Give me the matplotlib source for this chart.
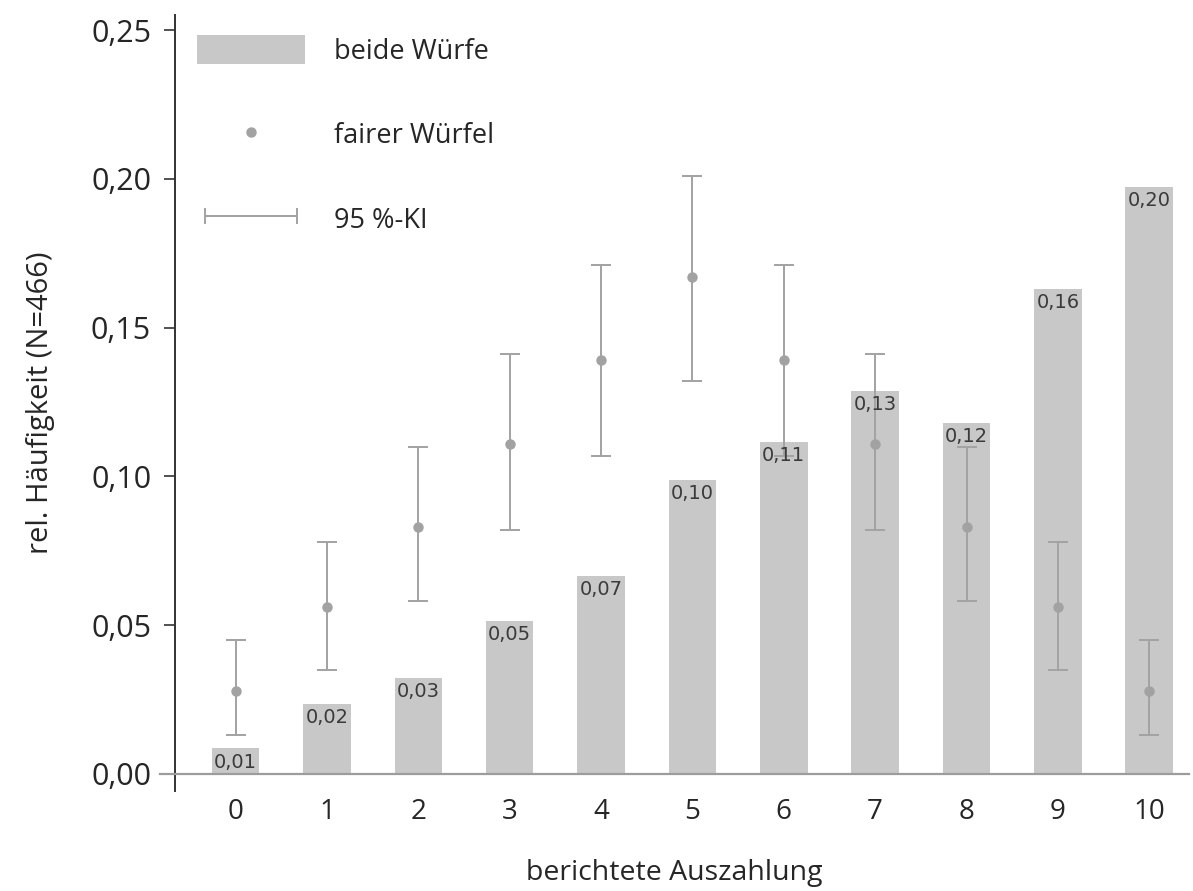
import matplotlib
matplotlib.use('Agg')
import matplotlib.pyplot as plt
from matplotlib.patches import Patch
from matplotlib.lines import Line2D
from matplotlib.legend_handler import HandlerLine2D
import numpy as np

# values
auszahlung = [0, 1, 2, 3, 4, 5, 6, 7, 8, 9, 10]
beide_wuerfe = [0.0086, 0.0236, 0.0322, 0.0515, 0.0665, 0.0987, 0.1116, 0.1288, 0.1180, 0.1631, 0.1974]
fairer_wuerfel = [0.028, 0.056, 0.083, 0.111, 0.139, 0.167, 0.139, 0.111, 0.083, 0.056, 0.028]
ki_unten = [0.013, 0.035, 0.058, 0.082, 0.107, 0.132, 0.107, 0.082, 0.058, 0.035, 0.013]
ki_oben = [0.045, 0.078, 0.110, 0.141, 0.171, 0.201, 0.171, 0.141, 0.110, 0.078, 0.045]
y_ticks = [0.0, 0.05, 0.10, 0.15, 0.20, 0.25]

plt.rcParams['font.family'] = ['Open Sans', 'DejaVu Sans']
bar_col = '#c8c8c8'
dot_col = '#a2a2a2'
txt_col = '#262626'

fig = plt.figure(figsize=(11.93, 8.91), dpi=100)
ax = fig.add_axes([0.134, 0.112, 0.863, 0.871])

x = np.array(auszahlung)
ax.bar(x, beide_wuerfe, width=0.52, color=bar_col, zorder=2)

err = [np.array(fairer_wuerfel) - np.array(ki_unten), np.array(ki_oben) - np.array(fairer_wuerfel)]
ax.errorbar(x, fairer_wuerfel, yerr=err, fmt='o', color=dot_col, ecolor=dot_col,
            markersize=6.5, elinewidth=1.4, capsize=7, capthick=1.4, zorder=3)

# value labels inside the top of each bar
for xi, v in zip(x, beide_wuerfe):
    ax.annotate(('%.2f' % v).replace('.', ','), (xi, v), xytext=(0, -3), textcoords='offset points',
                ha='center', va='top', fontsize=14, color='#3a3a3a',
                family=['DejaVu Sans'], zorder=4)

ax.set_xlim(-0.83, 10.44)
ax.set_ylim(-0.0058, 0.255)
ax.spines['left'].set_position(('data', -0.667))
ax.spines['bottom'].set_position(('data', 0))
ax.spines['right'].set_visible(False)
ax.spines['top'].set_visible(False)
ax.spines['left'].set_color('#333333')
ax.spines['left'].set_linewidth(1.4)
ax.spines['bottom'].set_color('#9c9c9c')
ax.spines['bottom'].set_linewidth(1.6)

ax.set_xticks(x)
ax.set_xticklabels([str(a) for a in auszahlung])
ax.set_yticks(y_ticks)
ax.set_yticklabels([('%.2f' % t).replace('.', ',') for t in y_ticks])
ax.tick_params(axis='x', length=0, pad=17, labelsize=20, labelcolor=txt_col)
ax.tick_params(axis='y', length=8, width=1.2, color='#333333', pad=9, labelsize=22, labelcolor=txt_col)

ax.set_xlabel('berichtete Auszahlung', fontsize=20.5, color=txt_col, labelpad=24)
ax.set_ylabel('rel. Häufigkeit (N=466)', fontsize=21, color=txt_col, labelpad=26)

# legend
h_bar = Patch(facecolor=bar_col, edgecolor='none')
h_dot = Line2D([], [], marker='o', linestyle='none', color=dot_col, markersize=6.5)
h_ki = Line2D([], [], marker='|', color=dot_col, linewidth=1.4, markersize=12, markeredgewidth=1.4)
ax.legend([h_bar, h_dot, h_ki], ['beide Würfe', 'fairer Würfel', '95 %-KI'],
          loc='upper left', bbox_to_anchor=(0.036, 0.974), frameon=False,
          fontsize=19.5, handlelength=4.0, handleheight=1.25, handletextpad=1.05,
          labelspacing=2.0, borderpad=0, borderaxespad=0, labelcolor=txt_col,
          handler_map={h_dot: HandlerLine2D(numpoints=1), h_ki: HandlerLine2D(numpoints=2)})

fig.savefig('out.png', dpi=100)
